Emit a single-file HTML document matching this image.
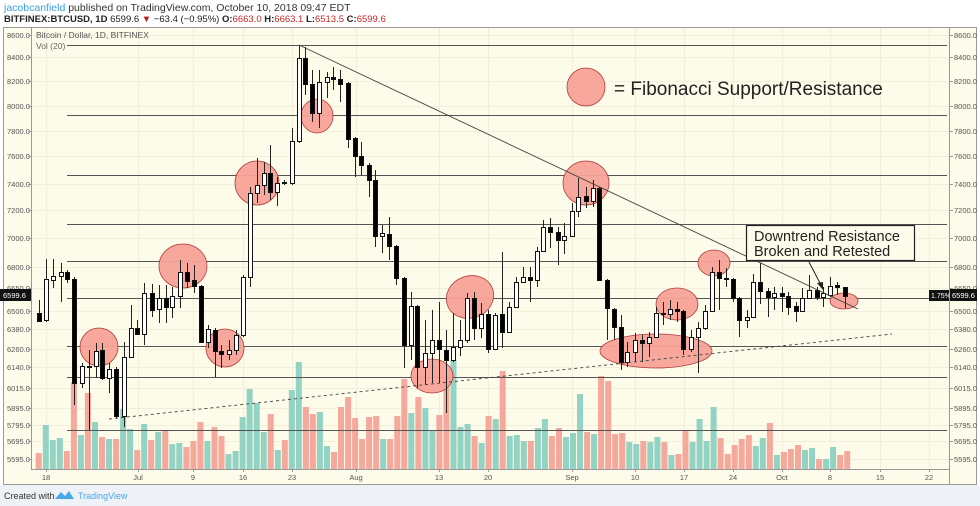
<!DOCTYPE html>
<html><head><meta charset="utf-8">
<style>
html,body{margin:0;padding:0;background:#fff;width:980px;height:506px;overflow:hidden;font-family:"Liberation Sans",sans-serif;}
svg{position:absolute;left:0;top:0}
</style></head>
<body>
<svg id="s" width="980" height="506" viewBox="0 0 980 506" xmlns="http://www.w3.org/2000/svg" font-family="Liberation Sans, sans-serif">
<rect x="0" y="0" width="980" height="506" fill="#fff"/>
<rect x="0" y="485" width="980" height="21" fill="#eef1f5"/>
<text x="4" y="11" font-size="10.5" fill="#333"><tspan fill="#3ba0e6">jacobcanfield</tspan> published on TradingView.com, October 10, 2018 09:47 EDT</text>
<text x="4" y="22" font-size="9.5" fill="#222"><tspan font-weight="bold">BITFINEX:BTCUSD, 1D</tspan> 6599.6 <tspan fill="#b71c1c">▼</tspan> −63.4 (−0.95%) <tspan font-weight="bold">O:</tspan><tspan fill="#c62828">6663.0</tspan> <tspan font-weight="bold">H:</tspan><tspan fill="#c62828">6663.1</tspan> <tspan font-weight="bold">L:</tspan><tspan fill="#c62828">6513.5</tspan> <tspan font-weight="bold">C:</tspan><tspan fill="#c62828">6599.6</tspan></text>
<rect x="3.5" y="27.5" width="973" height="457" fill="#fdfbe9" stroke="#9a9a9a"/>
<g id="grid" stroke="#f1efd9" stroke-width="1"></g>
<g id="vol"></g>
<g id="fib" stroke="#555" stroke-width="1"></g>
<g id="circ" fill="#f7a397" stroke="#a33" stroke-width="0.8" opacity="0.95">
<circle cx="99" cy="347" r="19"/>
<ellipse cx="183" cy="266" rx="24" ry="22"/>
<circle cx="225" cy="348" r="19"/>
<ellipse cx="257" cy="183" rx="22" ry="22"/>
<ellipse cx="317" cy="116" rx="16" ry="17"/>
<ellipse cx="470" cy="297" rx="24" ry="21" transform="rotate(-20 470 297)"/>
<ellipse cx="432" cy="376" rx="21" ry="17"/>
<ellipse cx="586" cy="183" rx="23" ry="22"/>
<ellipse cx="677" cy="304" rx="21" ry="16"/>
<ellipse cx="656" cy="351" rx="56" ry="17"/>
<ellipse cx="714" cy="263" rx="16" ry="13"/>
<ellipse cx="844" cy="301" rx="14" ry="8"/>
<circle cx="586" cy="87" r="19"/>
</g>
<g id="cand"></g>
<line x1="299" y1="45" x2="858" y2="309" stroke="#444" stroke-width="0.9"/>
<line x1="109" y1="419" x2="892" y2="334" stroke="#444" stroke-width="0.9" stroke-dasharray="3,3"/>
<text x="614" y="95" font-size="19" fill="#222">= Fibonacci Support/Resistance</text>
<rect x="746.5" y="225.5" width="168" height="35" fill="#fdfbe9" stroke="#222" stroke-width="1.2"/>
<text x="754" y="241" font-size="14.5" fill="#222">Downtrend Resistance</text>
<text x="754" y="256" font-size="14.5" fill="#222">Broken and Retested</text>
<line x1="809" y1="262" x2="822" y2="287" stroke="#222" stroke-width="1"/>
<path d="M823 290 L817 283 L823 282 Z" fill="#222"/>
<text x="36" y="38" font-size="8.5" fill="#555">Bitcoin / Dollar, 1D, BITFINEX</text>
<text x="36" y="49" font-size="8.5" fill="#666">Vol (20)</text>
<line x1="31.5" y1="28" x2="31.5" y2="469" stroke="#999"/>
<line x1="949.5" y1="28" x2="949.5" y2="484" stroke="#999"/>
<line x1="31" y1="469.5" x2="950" y2="469.5" stroke="#999"/>
<g id="ax" font-size="7.5" fill="#555"></g>
<rect x="0" y="289" width="31" height="12" fill="#111"/>
<text x="3" y="298" font-size="7.5" fill="#fff">6599.6</text>
<rect x="929" y="290" width="20" height="11" fill="#111"/>
<text x="931" y="298" font-size="7" fill="#fff">1.75%</text>
<rect x="950" y="289" width="27" height="12" fill="#111"/>
<text x="952" y="298" font-size="7.5" fill="#fff">6599.6</text>
<text x="4" y="499" font-size="9" fill="#333">Created with</text>
<path d="M55 499 L61 492 L65 496 L69 491 L74 499 Z" fill="#4aa8e8"/>
<text x="78" y="499" font-size="9" fill="#4aa8e8">TradingView</text>
</svg>
<script>
var NS="http://www.w3.org/2000/svg";
function el(p,t,a){var e=document.createElementNS(NS,t);for(var k in a)e.setAttribute(k,a[k]);p.appendChild(e);return e;}
var ax=document.getElementById('ax'),grid=document.getElementById('grid');
var py=[[8600,35],[8400,57],[8200,81],[8000,106],[7800,131],[7600,156],[7400,184],[7200,210],[7000,238],[6800,267],[6650,288],[6500,311],[6380,329],[6260,349],[6140,367],[6015,388],[5895,408],[5795,425],[5695,441],[5595,459]];
py.forEach(function(p){
 el(grid,'line',{x1:32,x2:949,y1:p[1]+.5,y2:p[1]+.5});
 var t=el(ax,'text',{x:7,y:p[1]+3});t.textContent=p[0].toFixed(1);
 var t2=el(ax,'text',{x:954,y:p[1]+3});t2.textContent=p[0].toFixed(1);
 el(ax,'line',{x1:28,x2:31,y1:p[1]+.5,y2:p[1]+.5,stroke:'#999'});
 el(ax,'line',{x1:950,x2:953,y1:p[1]+.5,y2:p[1]+.5,stroke:'#999'});
});
var dl=[['18',46],['Jul',138],['9',193],['16',243],['23',292],['Aug',356],['13',439],['20',488],['Sep',572],['10',635],['17',684],['24',733],['Oct',782],['8',830],['15',880],['22',929]];
dl.forEach(function(d){
 el(grid,'line',{x1:d[1]+.5,x2:d[1]+.5,y1:28,y2:469});
 var t=el(ax,'text',{x:d[1],y:480,'text-anchor':'middle'});t.textContent=d[0];
 el(ax,'line',{x1:d[1]+.5,x2:d[1]+.5,y1:469,y2:472,stroke:'#999'});
});
var fib=document.getElementById('fib');
[45,115,175,224,261,298,346,377,430].forEach(function(y){el(fib,'line',{x1:67,x2:947,y1:y+.5,y2:y+.5});});
var V="446g453r425g440g438g451r382r435g393r422g437r439g439r409g429g450r424g440r432g430r444g443g447r441r422r441g427r436r454g451g417g389g403g432g414r450g440r390g362g407r414r412g446g452r407r397r418r439r417r416r439g439r416r379r413g397r408g430g415r380r360g427g424g436r443g416r419g371r436g435g441g441r428g419g436r428r437g433g394g432r434g376r381r434r433r442g444g441r442g437g442r455g454r430r442g419g441g407g438r454r445r439r435r446g438g423r455g452r449r445r450g448g459r459g447g455r451r";
var vg=document.getElementById('vol');var re=/(\d+)([gr])/g,m,i=0;
while((m=re.exec(V))){var vx=31.7+i*7.03;var vt=+m[1];
 if(vx>33) el(vg,'rect',{x:(vx-3).toFixed(1),y:vt,width:6,height:469-vt,fill:m[2]=='g'?'#93d3c3':'#f5a89c'});i++;}
var C=[[31.7,313,328,302,337,1],[39.3,313,321,300,322,0],[46,279,320,259,322,1],[53.3,276,280,259,288,1],[60.7,272,276,263,302,1],[67.3,272,279,270,283,0],[74,279,383,277,405,0],[81.7,366,383,363,388,1],[88.7,366,367,350,430,1],[95.7,351,366,343,378,1],[102,350,378,343,380,0],[109,369,378,363,393,1],[116,369,416,367,418,0],[123.7,357,416,342,427,1],[130.7,328,357,305,358,1],[137.3,328,334,320,335,0],[144.3,293,334,283,345,1],[151.7,293,310,284,317,0],[158.7,298,309,285,323,1],[165.7,298,307,285,323,0],[172.3,296,307,287,318,1],[179.7,272,296,260,308,1],[186.7,272,281,263,288,0],[193.7,280,286,265,293,0],[200.7,286,342,285,343,0],[207.7,329,342,325,348,1],[214.7,330,351,328,377,0],[221.3,351,354,345,368,0],[228.7,350,354,340,360,1],[236,335,350,330,355,1],[242.7,277,335,275,337,1],[250,193,277,187,287,1],[256.7,185,193,158,203,1],[264,173,185,162,195,1],[270,173,192,145,200,0],[277.3,183,192,177,206,1],[284,182,183,180,185,0],[291.7,141,183,128,185,1],[299,58,141,45,143,1],[305,58,84,47,95,0],[312.3,84,113,70,122,0],[319.3,82,113,70,128,1],[326.7,77,82,72,98,1],[333.3,77,79,67,90,0],[340,79,84,70,102,0],[347.7,83,139,82,148,0],[354.7,138,156,137,177,0],[361.3,156,165,142,175,0],[368.7,165,180,163,197,0],[375,180,236,170,247,0],[382.3,233,236,225,253,1],[389.3,234,246,217,260,0],[396.3,246,278,245,285,0],[404,278,345,277,368,0],[410.7,306,345,292,360,1],[417.3,306,367,305,388,0],[424.7,353,367,320,385,1],[432,340,353,310,383,1],[438.7,340,349,302,383,0],[445.7,350,360,330,413,0],[452.7,347,360,313,362,1],[459.7,340,347,320,356,1],[466.7,298,340,293,343,1],[473.7,298,328,292,340,0],[480.7,314,328,303,338,1],[488,314,349,310,353,0],[495,315,349,313,350,1],[502.3,314,332,252,348,0],[509,307,332,302,333,1],[515.7,282,307,277,308,1],[522.7,277,282,267,283,1],[530,277,280,267,302,0],[536.7,251,280,247,287,1],[543.3,227,251,220,252,1],[550,227,232,218,248,0],[557.7,232,240,227,265,0],[564,236,240,223,254,1],[571.7,211,236,203,237,1],[578.3,197,211,178,217,1],[585.7,196,201,187,208,0],[592.7,188,201,180,207,1],[599.3,188,280,187,281,0],[606.7,280,308,279,340,0],[614,309,327,308,340,0],[620.7,327,362,315,370,0],[627.3,352,362,342,367,1],[634.7,340,352,333,362,1],[641.7,340,343,335,362,0],[648.7,337,343,332,357,1],[655.7,313,337,307,338,1],[662.7,313,314,302,325,0],[670,309,314,300,320,1],[676.7,309,311,302,322,0],[683.3,311,349,310,355,0],[690.7,337,349,330,352,1],[697.7,328,337,322,373,1],[705,311,328,305,330,1],[711.7,272,311,267,312,1],[718.7,272,278,260,310,0],[725.7,278,279,268,287,0],[732.7,279,298,278,302,0],[739.3,298,320,297,337,0],[746.7,317,320,310,328,1],[753.3,282,317,274,318,1],[760,282,291,263,304,0],[767.7,291,297,288,317,0],[774.3,293,297,287,310,1],[781.7,293,296,287,312,0],[788.3,296,307,292,315,0],[795.7,306,311,302,322,0],[802.3,298,311,288,312,1],[809.3,290,298,275,298,1],[816.7,290,297,287,300,0],[823.3,293,297,287,307,1],[830,286,295,277,297,1],[837.3,285,287,282,295,0],[844.7,287,296,287,308,0]];
var cg=document.getElementById('cand');
C.forEach(function(c){
 if(c[0]<33)return;
 var x=Math.round(c[0]);
 el(cg,'line',{x1:x+.5,x2:x+.5,y1:c[3],y2:c[4],stroke:'#222','stroke-width':1});
 var h=Math.max(1,c[2]-c[1]);
 el(cg,'rect',{x:x-1.5,y:c[1]+.5,width:4,height:h,fill:c[5]?'#fff':'#000',stroke:'#111','stroke-width':1});
});
</script>
</body></html>
